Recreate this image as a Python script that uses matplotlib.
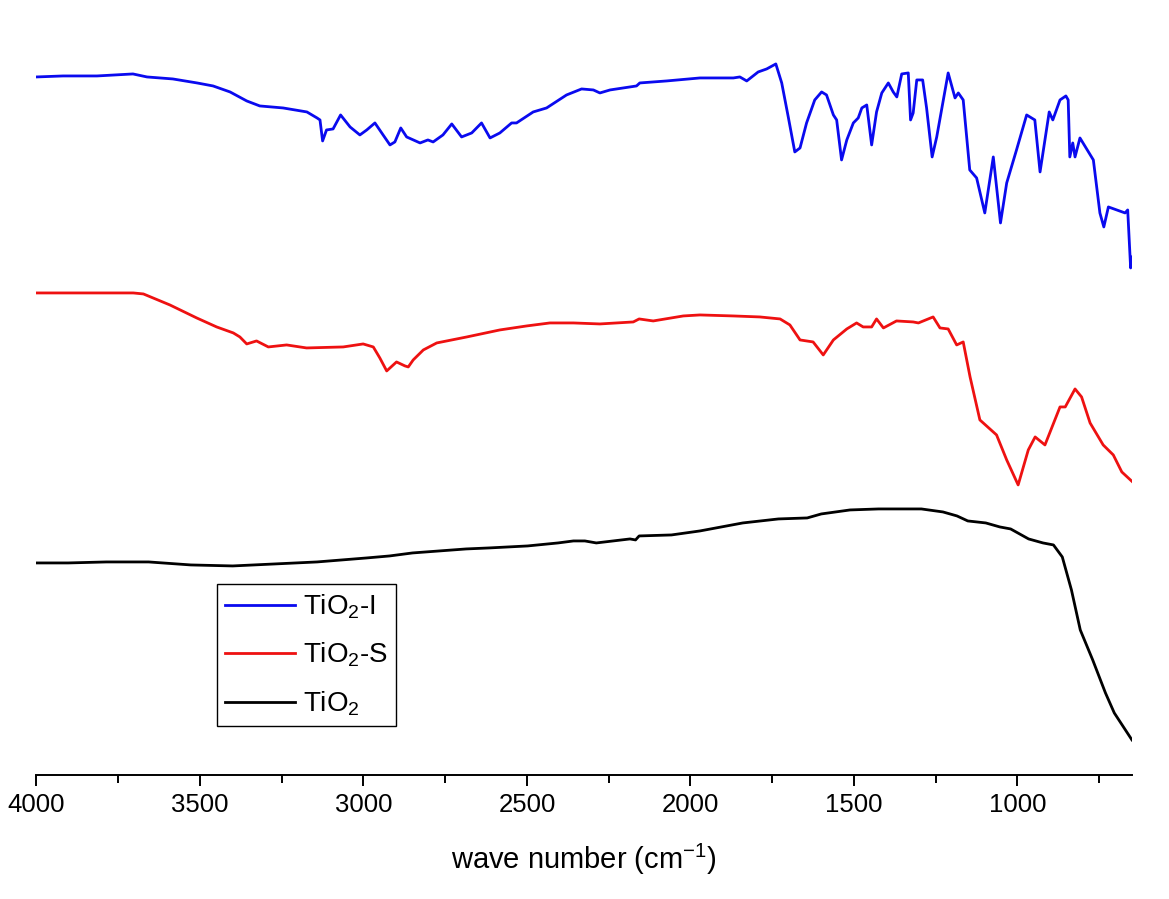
import matplotlib

matplotlib.use("Agg")
import matplotlib.pyplot as plt
from matplotlib.ticker import MultipleLocator

plt.rcParams["font.family"] = ["Liberation Sans", "DejaVu Sans"]
plt.rcParams["mathtext.fontset"] = "custom"
plt.rcParams["mathtext.rm"] = "Liberation Sans"
plt.rcParams["mathtext.default"] = "regular"

# wavenumber (cm-1) / transmittance (a.u., curves stacked with offsets as in the figure)
wn_i = [4000, 3919, 3815, 3705, 3662, 3583, 3509, 3460, 3408, 3357, 3317, 3246, 3173,
        3142, 3133, 3125, 3113, 3093, 3070, 3041, 3011, 2990, 2965, 2940, 2919, 2904,
        2886, 2868, 2827, 2803, 2787, 2757, 2730, 2700, 2669, 2639, 2613, 2583, 2547,
        2532, 2481, 2440, 2379, 2333, 2297, 2277, 2246, 2165, 2155, 2073, 1971, 1869,
        1849, 1828, 1793, 1767, 1739, 1721, 1701, 1681, 1665, 1645, 1620, 1599, 1584,
        1563, 1553, 1538, 1522, 1502, 1487, 1476, 1461, 1446, 1431, 1415, 1395, 1380,
        1369, 1354, 1334, 1327, 1319, 1308, 1290, 1278, 1261, 1247, 1212, 1191, 1181,
        1166, 1146, 1125, 1100, 1074, 1052, 1033, 1003, 972, 947, 931, 903, 892, 870,
        852, 845, 840, 831, 824, 809, 768, 748, 736, 722, 671, 663, 654, 648]
t_i = [69.8, 69.9, 69.9, 70.1, 69.8, 69.6, 69.2, 68.9, 68.3, 67.4, 66.9, 66.7, 66.3,
       65.7, 65.5, 63.4, 64.5, 64.6, 66.0, 64.8, 64.0, 64.5, 65.2, 64.0, 63.0, 63.3,
       64.7, 63.8, 63.2, 63.5, 63.3, 64.0, 65.1, 63.8, 64.2, 65.2, 63.7, 64.2, 65.2,
       65.2, 66.3, 66.7, 68.0, 68.6, 68.5, 68.2, 68.5, 68.9, 69.2, 69.4, 69.7, 69.7,
       69.8, 69.4, 70.3, 70.6, 71.1, 69.2, 65.8, 62.3, 62.7, 65.2, 67.5, 68.3, 68.0,
       66.0, 65.5, 61.5, 63.5, 65.2, 65.7, 66.7, 67.0, 63.0, 66.3, 68.2, 69.2, 68.3,
       67.8, 70.1, 70.2, 65.5, 66.2, 69.5, 69.5, 66.7, 61.8, 63.8, 70.2, 67.7, 68.2,
       67.5, 60.5, 59.7, 56.2, 61.8, 55.2, 59.2, 62.5, 66.0, 65.5, 60.3, 66.3, 65.5, 67.5,
       67.9, 67.5, 61.8, 63.2, 61.8, 63.7, 61.5, 56.2, 54.8, 56.8, 56.2, 56.5, 50.7, 51.8]

wn_s = [4000, 3826, 3755, 3704, 3673, 3592, 3510, 3449, 3398, 3378, 3357, 3327, 3291,
        3235, 3174, 3062, 3001, 2970, 2950, 2929, 2899, 2873, 2863, 2848, 2817, 2776,
        2684, 2583, 2501, 2430, 2358, 2277, 2175, 2157, 2114, 2022, 1971, 1869, 1788,
        1726, 1696, 1665, 1625, 1594, 1563, 1522, 1492, 1472, 1446, 1431, 1410, 1370,
        1319, 1303, 1258, 1237, 1212, 1186, 1166, 1145, 1115, 1064, 1033, 998, 967,
        946, 916, 870, 854, 824, 804, 778, 738, 707, 681, 648]
t_s = [48.2, 48.2, 48.2, 48.2, 48.1, 47.0, 45.7, 44.8, 44.2, 43.8, 43.1, 43.4, 42.8,
       43.0, 42.7, 42.8, 43.1, 42.8, 41.7, 40.4, 41.3, 40.9, 40.8, 41.5, 42.5, 43.2,
       43.8, 44.5, 44.9, 45.2, 45.2, 45.1, 45.3, 45.6, 45.4, 45.9, 46.0, 45.9, 45.8,
       45.6, 45.0, 43.5, 43.3, 42.0, 43.5, 44.6, 45.2, 44.8, 44.8, 45.6, 44.7, 45.4,
       45.3, 45.2, 45.8, 44.7, 44.6, 43.0, 43.3, 39.8, 35.5, 34.0, 31.5, 29.0, 32.5,
       33.8, 33.0, 36.8, 36.8, 38.6, 37.8, 35.2, 33.0, 32.0, 30.3, 29.3]

wn_t = [4000, 3903, 3786, 3657, 3528, 3400, 3271, 3142, 2990, 2920, 2850, 2686, 2616,
        2498, 2405, 2358, 2323, 2288, 2185, 2168, 2157, 2058, 1971, 1840, 1731, 1643,
        1600, 1512, 1425, 1294, 1228, 1185, 1152, 1097, 1054, 1021, 966, 922, 890, 863,
        835, 808, 770, 731, 704, 650]
t_t = [21.2, 21.2, 21.3, 21.3, 21.0, 20.9, 21.1, 21.3, 21.7, 21.9, 22.2, 22.6, 22.7,
       22.9, 23.2, 23.4, 23.4, 23.2, 23.6, 23.5, 23.9, 24.0, 24.4, 25.2, 25.6, 25.7,
       26.1, 26.5, 26.6, 26.6, 26.3, 25.9, 25.4, 25.2, 24.8, 24.6, 23.6, 23.2, 23.0, 21.8,
       18.5, 14.5, 11.5, 8.2, 6.2, 3.5]

labels = ["TiO$_2$-I", "TiO$_2$-S", "TiO$_2$"]
colors = ["#0a0aef", "#ee1111", "#000000"]

fig = plt.figure(figsize=(11.69, 8.99), dpi=100)
ax = fig.add_axes([0.0312, 0.138, 0.9371, 0.812])

for wn, t, lab, c in zip([wn_i, wn_s, wn_t], [t_i, t_s, t_t], labels, colors):
    ax.plot(wn, t, color=c, lw=2.0, label=lab, solid_joinstyle="round")

ax.set_xlim(4000, 650)
ax.set_ylim(0, 73)
ax.xaxis.set_major_locator(MultipleLocator(500))
ax.xaxis.set_minor_locator(MultipleLocator(250))
for s in ["left", "top", "right"]:
    ax.spines[s].set_visible(False)
ax.spines["bottom"].set_linewidth(1.4)
ax.set_yticks([])
ax.tick_params(axis="x", which="major", direction="out", length=8, width=1.4,
               labelsize=18.5, pad=5)
ax.tick_params(axis="x", which="minor", direction="out", length=5.5, width=1.4)
ax.set_xlabel("wave number (cm$^{-1}$)", fontsize=21, labelpad=18)

leg = ax.legend(loc="upper left", bbox_to_anchor=(217 / 1169, 1 - 584 / 899),
                bbox_transform=fig.transFigure, borderaxespad=0, fontsize=20,
                fancybox=False, framealpha=1, edgecolor="black",
                handlelength=2.5, handletextpad=0.3, labelspacing=0.72, borderpad=0.3)
leg.get_frame().set_linewidth(1.0)

fig.savefig("out.png", dpi=100)
